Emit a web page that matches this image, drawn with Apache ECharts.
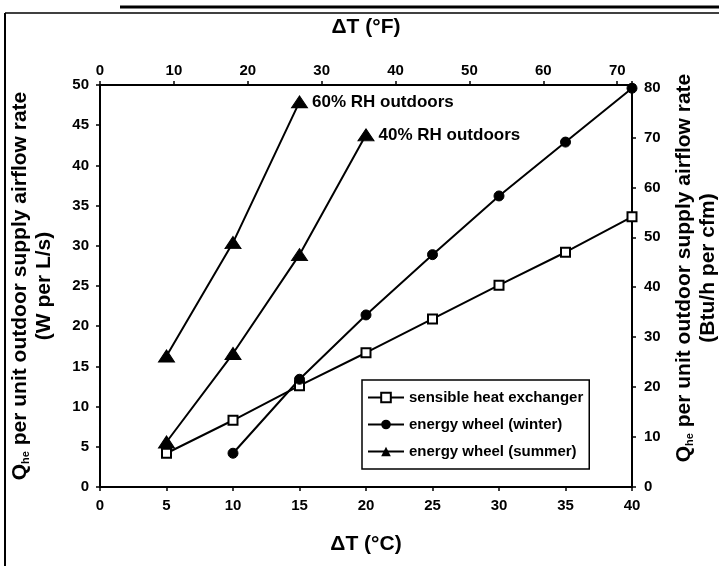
<!DOCTYPE html>
<html>
<head>
    <meta charset="utf-8">
    <script src="https://cdn.jsdelivr.net/npm/echarts@6/dist/echarts.min.js"></script>
</head>
<body style="margin:0;background:#fff;">
    <div id="main" style="width:719px;height:566px;"></div>
    <script type="text/javascript">
        // data (W per L/s vs delta T in C)
        var tempC = [5, 10, 15, 20, 25, 30, 35, 40];
        var sensible = [4.2, 8.3, 12.6, 16.7, 20.9, 25.1, 29.2, 33.6];
        var winterC = [10, 15, 20, 25, 30, 35, 40];
        var winter = [4.2, 13.4, 21.4, 28.9, 36.2, 42.9, 49.6];
        var summer60C = [5, 10, 15];
        var summer60 = [16.3, 30.4, 47.9];
        var summer40C = [5, 10, 15, 20];
        var summer40 = [5.6, 16.6, 28.9, 43.8];
        var rhLabels = ['60% RH outdoors', '40% RH outdoors'];

        function pairs(xs, ys) {
            var out = [];
            for (var i = 0; i < xs.length; i++) out.push([xs[i], ys[i]]);
            return out;
        }

        var font = 'Liberation Sans, Arial, Helvetica, sans-serif';
        var tickStyle = { color: '#000', fontSize: 15, fontWeight: 'bold', fontFamily: font };
        var lineAxis = { onZero: false, lineStyle: { color: '#000', width: 2 } };
        var tick = { show: true, length: 4, lineStyle: { color: '#000', width: 1.5 } };
        var titleRich = {
            q: { fontSize: 21, fontFamily: font, fontWeight: 'bold', color: '#000' },
            s: { fontSize: 11, fontFamily: font, fontWeight: 'bold', color: '#000', padding: [12, 0, 0, 0] },
            t: { fontSize: 21, fontFamily: font, fontWeight: 'bold', color: '#000', lineHeight: 24 }
        };
        var xTitle = { color: '#000', fontSize: 21, fontWeight: 'bold', fontFamily: font };

        var myChart = echarts.init(document.getElementById('main'));

        function lastLabel(data, text) {
            var d = pairs(data[0], data[1]);
            var last = d.length - 1;
            d[last] = {
                value: d[last],
                label: {
                    show: true, position: 'right', distance: 4, formatter: text,
                    color: '#000', fontSize: 17, fontWeight: 'bold', fontFamily: font
                }
            };
            return d;
        }

        var base = {
            type: 'line',
            xAxisIndex: 0,
            yAxisIndex: 0,
            lineStyle: { color: '#000', width: 2 },
            itemStyle: { color: '#000', borderColor: '#000' },
            animation: false
        };

        var option = {
            backgroundColor: '#fff',
            animation: false,
            grid: { left: 100, right: 87, top: 85, bottom: 79, containLabel: false, outerBoundsMode: 'none' },
            legend: {
                orient: 'vertical',
                left: 362,
                top: 380,
                padding: [10, 6, 10, 5],
                itemGap: 12,
                itemWidth: 36,
                itemHeight: 12,
                borderColor: '#000',
                borderWidth: 1.5,
                borderRadius: 0,
                backgroundColor: '#fff',
                textStyle: { color: '#000', fontSize: 15, fontWeight: 'bold', fontFamily: font },
                data: ['sensible heat exchanger', 'energy wheel (winter)', 'energy wheel (summer)']
            },
            xAxis: [
                {
                    type: 'value', position: 'bottom', min: 0, max: 40, interval: 5,
                    name: 'ΔT (°C)', nameLocation: 'middle', nameGap: 47,
                    nameTextStyle: xTitle,
                    axisLine: lineAxis, axisTick: tick,
                    axisLabel: Object.assign({ margin: 11 }, tickStyle),
                    splitLine: { show: false }
                },
                {
                    type: 'value', position: 'top', min: 0, max: 72, interval: 10,
                    name: 'ΔT (°F)', nameLocation: 'middle', nameGap: 47,
                    nameTextStyle: xTitle,
                    axisLine: lineAxis, axisTick: tick,
                    axisLabel: Object.assign({ margin: 7, formatter: function (v) { return v % 10 === 0 ? v : ''; } }, tickStyle),
                    splitLine: { show: false }
                }
            ],
            yAxis: [
                {
                    type: 'value', position: 'left', min: 0, max: 50, interval: 5,
                    name: '{q|Q}{s|he}{t| per unit outdoor supply airflow rate}\n{t|(W per L/s)}',
                    nameLocation: 'middle', nameGap: 44, nameRotate: 90,
                    nameTextStyle: { rich: titleRich, align: 'center' },
                    axisLine: lineAxis, axisTick: tick,
                    axisLabel: Object.assign({ margin: 11 }, tickStyle),
                    splitLine: { show: false }
                },
                {
                    type: 'value', position: 'right', min: 0, max: 80.5, interval: 10,
                    name: '{q|Q}{s|he}{t| per unit outdoor supply airflow rate}\n{t|(Btu/h per cfm)}',
                    nameLocation: 'middle', nameGap: 40, nameRotate: 90,
                    nameTextStyle: { rich: titleRich, align: 'center', padding: [0, 0, 0, 36] },
                    axisLine: lineAxis, axisTick: tick,
                    axisLabel: Object.assign({ margin: 12, formatter: function (v) { return v % 10 === 0 ? v : ''; } }, tickStyle),
                    splitLine: { show: false }
                }
            ],
            series: [
                Object.assign({}, base, {
                    name: 'sensible heat exchanger',
                    data: pairs(tempC, sensible),
                    symbol: 'rect', symbolSize: 9,
                    itemStyle: { color: '#fff', borderColor: '#000', borderWidth: 2 }
                }),
                Object.assign({}, base, {
                    name: 'energy wheel (winter)',
                    data: pairs(winterC, winter),
                    symbol: 'circle', symbolSize: 10
                }),
                Object.assign({}, base, {
                    name: 'energy wheel (summer)',
                    data: lastLabel([summer60C, summer60], rhLabels[0]),
                    symbol: 'triangle', symbolSize: [16, 12]
                }),
                Object.assign({}, base, {
                    name: 'energy wheel (summer)',
                    data: lastLabel([summer40C, summer40], rhLabels[1]),
                    symbol: 'triangle', symbolSize: [16, 12]
                })
            ],
            graphic: [
                { type: 'line', shape: { x1: 120, y1: 7, x2: 719, y2: 7 }, style: { stroke: '#000', lineWidth: 3 } },
                { type: 'line', shape: { x1: 5, y1: 13, x2: 719, y2: 13 }, style: { stroke: '#000', lineWidth: 1.5 } },
                { type: 'line', shape: { x1: 5, y1: 13, x2: 5, y2: 566 }, style: { stroke: '#000', lineWidth: 2 } }
            ]
        };
        myChart.setOption(option);
    </script>
</body>
</html>
